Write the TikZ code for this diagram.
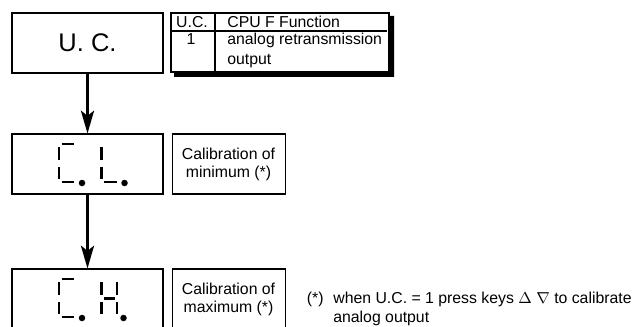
\documentclass[tikz,border=0pt]{standalone}
\usepackage{fontspec}
\setmainfont{Liberation Sans}
\usetikzlibrary{arrows.meta,positioning}

\tikzset{
  frame/.style={draw, line width=0.6pt, minimum width=3.02cm, minimum height=1.2cm, inner sep=0pt},
  textframe/.style={draw, line width=0.6pt, minimum width=2.26cm, minimum height=1.2cm, inner sep=0pt, align=center, font=\fontsize{9}{10.2}\selectfont},
  small/.style={font=\fontsize{9}{10.8}\selectfont, inner sep=0pt},
  segline/.style={line width=1.7pt},
  flow/.style={line width=1.4pt, -{Stealth[length=13pt,width=7.5pt,inset=3pt]}}
}

\newcommand{\digitC}{\draw[segline] (0.05,0.76) -- (0.30,0.76) (0,0.70) -- (0,0.44) (0,0.30) -- (0,0.06) (0.05,0) -- (0.30,0);
\fill (0.46,-0.02) circle (0.065);}
\newcommand{\digitL}{\draw[segline] (0,0.70) -- (0,0.44) (0,0.30) -- (0,0.06) (0.05,0) -- (0.30,0);
\fill (0.46,-0.02) circle (0.065);}
\newcommand{\digitH}{\draw[segline] (0,0.70) -- (0,0.44) (0,0.30) -- (0,0.06) (0.31,0.70) -- (0.31,0.44) (0.31,0.30) -- (0.31,0.06) (0.05,0.37) -- (0.26,0.37);
\fill (0.44,-0.02) circle (0.065);}

\begin{document}
\begin{tikzpicture}

\useasboundingbox (0,0) rectangle (12.88,6.52);
\clip (0,0) rectangle (12.88,6.52);

\node[frame, font=\fontsize{14.5}{17}\selectfont] (uc) at (1.75,5.66) {U. C.};
\node[frame] (cmin) at (1.75,3.24) {};
\node[frame] (cmax) at (1.75,0.54) {};

\node[textframe, right=0.16 of cmin] (lbmin) {Calibration of\\minimum (*)};
\node[textframe, right=0.16 of cmax] (lbmax) {Calibration of\\maximum (*)};

\draw[flow] (uc.south) -- (cmin.north);
\draw[flow] (cmin.south) -- (cmax.north);

\begin{scope}[shift={(1.18,2.88)}]
\digitC
\end{scope}
\begin{scope}[shift={(2.03,2.88)}]
\digitL
\end{scope}

\begin{scope}[shift={(1.18,0.18)}]
\digitC
\end{scope}
\begin{scope}[shift={(2.03,0.18)}]
\digitH
\end{scope}

\fill (3.48,5.08) -- (7.78,5.08) -- (7.78,6.20) -- (7.88,6.20) -- (7.88,4.98) -- (3.48,4.98) -- cycle;
\draw[line width=0.6pt, fill=white] (3.42,5.08) rectangle (7.78,6.26);
\draw[line width=0.6pt] (3.42,5.90) -- (7.74,5.90);
\draw[line width=0.6pt] (4.30,6.26) -- (4.30,5.08);

\node[small, anchor=base] (hduc) at (3.84,5.96) {U.C.};
\node[small, anchor=base west] (hdfn) at (4.54,5.96) {CPU F Function};
\node[small, anchor=base] (one) at (3.82,5.62) {1};
\node[small, anchor=base west] (fn) at (4.54,5.62) {analog retransmission};
\node[small, anchor=base west] (fnb) at (4.54,5.22) {output};

\node[small, anchor=base west] (star) at (6.13,0.46) {(*)};
\node[small, anchor=base west] (note) at (6.66,0.46) {when U.C. = 1 press keys $\Delta$ $\nabla$ to calibrate};
\node[small, anchor=base west] (noteb) at (6.66,0.08) {analog output};

\end{tikzpicture}
\end{document}
